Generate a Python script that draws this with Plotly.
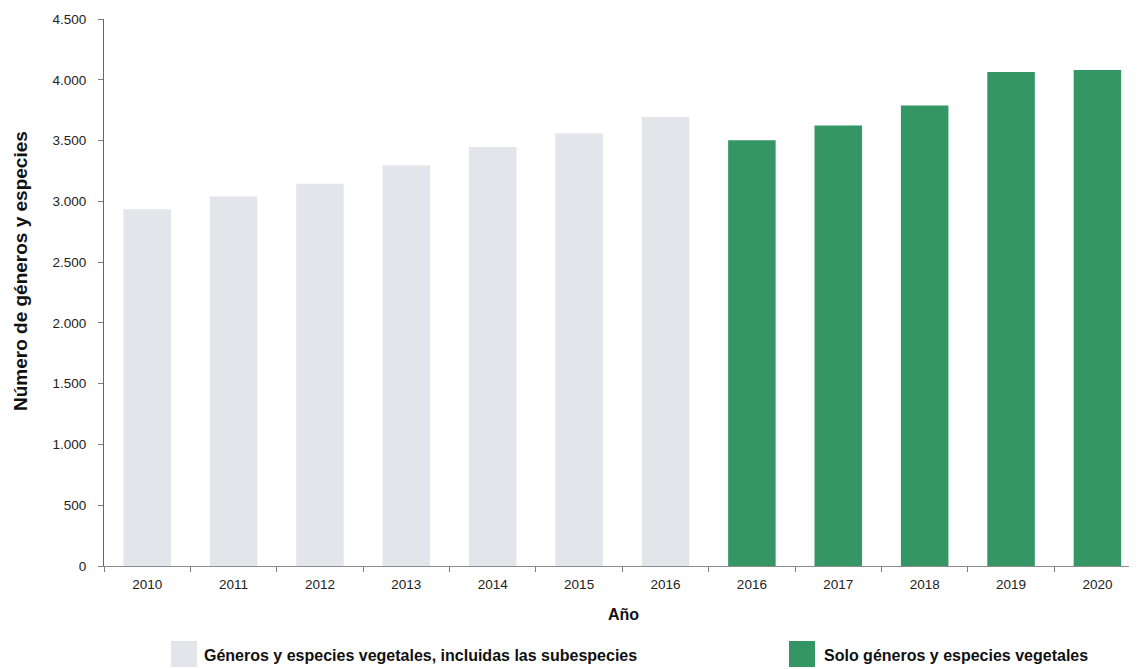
import plotly.graph_objects as go

# Data
years = ["2010", "2011", "2012", "2013", "2014", "2015", "2016",
         "2016", "2017", "2018", "2019", "2020"]
incl_subespecies = [2935, 3040, 3145, 3297, 3448, 3561, 3693]
solo_generos = [3503, 3624, 3789, 4063, 4080]
series_names = ["Géneros y especies vegetales, incluidas las subespecies",
                "Solo géneros y especies vegetales"]
y_ticks = [0, 500, 1000, 1500, 2000, 2500, 3000, 3500, 4000, 4500]

GREY = "#E2E5EA"
GREEN = "#339664"
FONT = "Liberation Sans, Arial, sans-serif"

# page has an 8px body margin; compensate so the plot sits where the reference does
OFF = 8
PAGE_W, PAGE_H = 1137, 669
W, H = PAGE_W - OFF, PAGE_H - OFF
# plot area in page pixels: x 104..1137, y 19..566
L = 104 - OFF
T = 19 - OFF
R = 0
B = H - (566 - OFF)
pw, ph = W - L - R, H - T - B

def px_x(px):
    return (px - OFF - L) / pw

def px_y(py):
    return (H - B - (py - OFF)) / ph

pos = list(range(len(years)))
n1 = len(incl_subespecies)

fig = go.Figure()
fig.add_trace(go.Bar(x=pos[:n1], y=incl_subespecies, name=series_names[0],
                     marker=dict(color=GREY, line=dict(width=0)),
                     width=0.55, showlegend=False))
fig.add_trace(go.Bar(x=pos[n1:], y=solo_generos, name=series_names[1],
                     marker=dict(color=GREEN, line=dict(width=0)),
                     width=0.55, showlegend=False))

fig.update_layout(
    width=W, height=H,
    margin=dict(l=L, r=R, t=T, b=B, pad=0),
    plot_bgcolor="white", paper_bgcolor="white",
    barmode="overlay",
    separators=",.",
    font=dict(family=FONT, size=13, color="#222222"),
    xaxis=dict(
        range=[-0.5, len(years) - 0.542],
        tickmode="array", tickvals=pos, ticktext=years,
        ticks="", showgrid=False, zeroline=False,
        showline=True, linecolor="#8c8c8c", linewidth=1,
        tickfont=dict(family=FONT, size=13.5, color="#222222"),
        minor=dict(tickmode="linear", tick0=-0.5, dtick=1, ticks="outside",
                   ticklen=5, tickcolor="#7f7f7f", tickwidth=1, showgrid=False),
        ticklabelstandoff=6,
        fixedrange=True,
    ),
    yaxis=dict(
        range=[0, 4500],
        tickmode="array", tickvals=y_ticks, tickformat=",d",
        ticks="outside", ticklen=5, tickcolor="#7f7f7f", tickwidth=1,
        showgrid=False, zeroline=False,
        showline=True, linecolor="#666666", linewidth=1,
        tickfont=dict(family=FONT, size=13.5, color="#222222"),
        ticklabelstandoff=9,
        fixedrange=True,
    ),
)

annotations = [
    dict(text="<b>Número de géneros y especies</b>", x=px_x(20), y=px_y(271),
         xref="paper", yref="paper", showarrow=False, textangle=-90,
         font=dict(family=FONT, size=19, color="#111111"),
         xanchor="center", yanchor="middle"),
    dict(text="<b>Año</b>", x=px_x(623), y=px_y(614),
         xref="paper", yref="paper", showarrow=False,
         font=dict(family=FONT, size=16, color="#111111"),
         xanchor="center", yanchor="middle"),
    dict(text="<b>" + series_names[0] + "</b>", x=px_x(202), y=px_y(655),
         xref="paper", yref="paper", showarrow=False,
         font=dict(family=FONT, size=16, color="#111111"),
         xanchor="left", yanchor="middle"),
    dict(text="<b>" + series_names[1] + "</b>", x=px_x(822), y=px_y(655),
         xref="paper", yref="paper", showarrow=False,
         font=dict(family=FONT, size=16, color="#111111"),
         xanchor="left", yanchor="middle"),
]
shapes = [
    dict(type="rect", xref="paper", yref="paper",
         x0=px_x(171), x1=px_x(197), y0=px_y(667), y1=px_y(641),
         fillcolor=GREY, line=dict(width=0)),
    dict(type="rect", xref="paper", yref="paper",
         x0=px_x(789), x1=px_x(815), y0=px_y(667), y1=px_y(641),
         fillcolor=GREEN, line=dict(width=0)),
]
fig.update_layout(annotations=annotations, shapes=shapes)

fig.write_html("out.html")
